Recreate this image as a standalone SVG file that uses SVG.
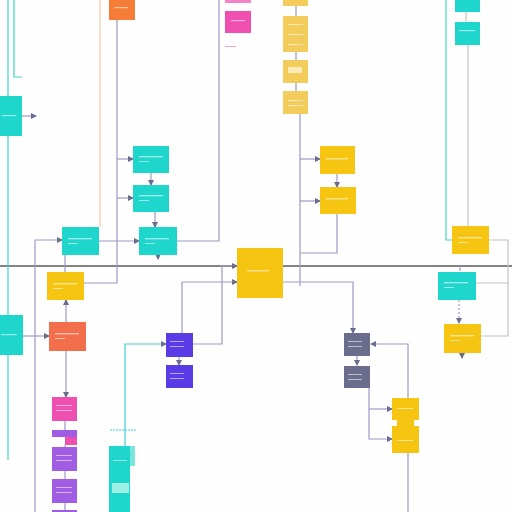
<svg xmlns="http://www.w3.org/2000/svg" width="512" height="512" viewBox="0 0 512 512">
<style>
.c{fill:none;stroke:#9a9cc4;stroke-width:1.2}
.t{fill:none;stroke:#3fd3c8;stroke-width:1.2}
.p{fill:none;stroke:#f3c9a6;stroke-width:1.2}
.g{fill:none;stroke:#c9c0bc;stroke-width:1.2}
.m{fill:none;stroke:#5a5a5a;stroke-width:1.4}
.teal{fill:#1fd6cc}
.yel{fill:#f6c512}
.ylt{fill:#f3cc5c}
.org{fill:#f57d38}
.red{fill:#f36f4c}
.pink{fill:#ef4fae}
.vio{fill:#a05ce2}
.blu{fill:#5a3ce6}
.gry{fill:#6c6c8c}
.tx{fill:#ffffff;opacity:0.55}
</style>
<defs>
<marker id="a" viewBox="0 0 6 6" refX="5" refY="3" markerWidth="5" markerHeight="5" orient="auto"><path d="M0,0L6,3L0,6z" fill="#6a6c90"/></marker>
</defs>
<rect width="512" height="512" fill="#fefefe"/>
<g id="connectors">
<line class="m" x1="0" y1="266" x2="512" y2="266"/>
<path class="t" d="M8,0V96"/>
<path class="t" d="M14,0V77H22"/>
<path class="t" d="M8,136V315"/>
<path class="t" d="M8,355V460"/>
<path class="c" d="M22,116H36" marker-end="url(#a)"/>
<path class="p" d="M100,0V227"/>
<path class="c" d="M117,20V283H84"/>
<path class="c" d="M117,159H133" marker-end="url(#a)"/>
<path class="c" d="M117,198H133" marker-end="url(#a)"/>
<path class="c" d="M151,173V185" marker-end="url(#a)"/>
<path class="c" d="M155,212V227" marker-end="url(#a)"/>
<path class="c" d="M158,255V259" marker-end="url(#a)"/>
<path class="c" d="M99,241H139" marker-end="url(#a)"/>
<path class="c" d="M177,241H219V0"/>
<path class="c" d="M35,512V240H62" marker-end="url(#a)"/>
<path class="c" d="M23,336H49" marker-end="url(#a)"/>
<path class="c" d="M65,255V272"/>
<path class="c" d="M66,322V300" marker-end="url(#a)"/>
<path class="c" d="M66,351V397" marker-end="url(#a)"/>
<path class="c" d="M65,421V430M65,445V447M65,471V479M65,503V512"/>
<path class="c" d="M300,114V286"/>
<path class="c" d="M296,6V16M296,52V60M296,82V91"/>
<path class="c" d="M300,159H320" marker-end="url(#a)"/>
<path class="c" d="M300,201H320" marker-end="url(#a)"/>
<path class="c" d="M337,174V187" marker-end="url(#a)"/>
<path class="c" d="M337,214V253H300"/>
<path class="c" d="M220,266H237" marker-end="url(#a)"/>
<path class="c" d="M182,333V282H237" marker-end="url(#a)"/>
<path class="c" d="M193,344H222V266"/>
<path class="c" d="M179,357V365" marker-end="url(#a)"/>
<path class="c" d="M283,282H353V333" marker-end="url(#a)"/>
<path class="c" d="M357,356V365" marker-end="url(#a)"/>
<path class="c" d="M408,398V344H371" marker-end="url(#a)"/>
<path class="c" d="M369,388V439H392" marker-end="url(#a)"/>
<path class="c" d="M369,409H392" marker-end="url(#a)"/>
<path class="c" d="M408,453V512"/>
<path class="t" d="M125,446V344H166" marker-end="url(#a)"/>
<path class="t" d="M110,430H137" stroke-dasharray="2 1"/>
<path class="t" d="M446,0V240H452"/>
<path class="g" d="M468,45V226"/>
<path class="g" d="M466,11V21"/>
<path class="g" d="M489,240H508V336H481M476,283H508"/>
<path class="c" d="M459,300V323" stroke-dasharray="2 2" marker-end="url(#a)"/>
<path class="c" d="M460,266V271"/>
<path class="c" d="M462,353V358" marker-end="url(#a)"/>
<path class="c" d="M110,455H137" stroke="#b8eee9" stroke-dasharray="1 9" stroke-width="3"/>
</g>
<g id="n1"><rect class="org" x="109" y="0" width="26" height="20"/><rect class="tx" x="114" y="7" width="14" height="1.2"/></g>
<g id="n2"><rect class="teal" x="0" y="96" width="22" height="40"/><rect class="tx" x="2" y="115" width="14" height="1.2"/></g>
<g id="n3"><rect class="teal" x="133" y="146" width="36" height="27"/><rect class="tx" x="139" y="156" width="24" height="1.4"/><rect class="tx" x="139" y="161" width="10" height="1"/></g>
<g id="n4"><rect class="teal" x="133" y="185" width="36" height="27"/><rect class="tx" x="139" y="195" width="24" height="1.4"/><rect class="tx" x="139" y="200" width="10" height="1"/></g>
<g id="n5"><rect class="teal" x="62" y="227" width="37" height="28"/><rect class="tx" x="68" y="238" width="24" height="1.4"/><rect class="tx" x="68" y="243" width="10" height="1"/></g>
<g id="n6"><rect class="teal" x="139" y="227" width="38" height="28"/><rect class="tx" x="145" y="238" width="24" height="1.4"/><rect class="tx" x="145" y="243" width="10" height="1"/></g>
<g id="n7"><rect class="yel" x="47" y="272" width="37" height="28"/><rect class="tx" x="53" y="283" width="24" height="1.4"/><rect class="tx" x="53" y="288" width="10" height="1"/></g>
<g id="n8"><rect class="red" x="49" y="322" width="37" height="29"/><rect class="tx" x="55" y="333" width="24" height="1.4"/><rect class="tx" x="55" y="338" width="10" height="1"/></g>
<g id="n9"><rect class="teal" x="0" y="315" width="23" height="40"/><rect class="tx" x="1" y="334" width="16" height="1.2"/></g>
<g id="n10"><rect class="yel" x="237" y="248" width="46" height="50"/><rect class="tx" x="247" y="270" width="22" height="1.4"/></g>
<g id="n11"><rect class="yel" x="320" y="146" width="35" height="28"/><rect class="tx" x="326" y="158" width="22" height="1.4"/></g>
<g id="n12"><rect class="yel" x="320" y="187" width="36" height="27"/><rect class="tx" x="326" y="198" width="22" height="1.4"/></g>
<g id="n13a"><rect class="ylt" x="283" y="0" width="25" height="6"/></g>
<g id="n13b"><rect class="ylt" x="283" y="16" width="25" height="36"/><rect class="tx" x="288" y="24" width="15" height="1"/><rect class="tx" x="288" y="34" width="15" height="1"/><rect class="tx" x="288" y="44" width="15" height="1"/></g>
<g id="n13c"><rect class="ylt" x="283" y="60" width="25" height="23"/><rect x="288" y="67" width="14" height="6" fill="#fbe9b6"/></g>
<g id="n13d"><rect class="ylt" x="283" y="91" width="25" height="23"/><rect class="tx" x="288" y="100" width="15" height="1"/><rect class="tx" x="288" y="105" width="15" height="1"/></g>
<g id="n14a"><rect class="pink" x="225" y="0" width="26" height="3" opacity="0.7"/></g>
<g id="n14b"><rect class="pink" x="225" y="11" width="26" height="22"/><rect class="tx" x="231" y="20" width="14" height="1.2"/><rect x="225" y="46" width="11" height="1" fill="#f3a3cf"/></g>
<g id="n15a"><rect class="teal" x="455" y="0" width="25" height="12"/></g>
<g id="n15b"><rect class="teal" x="455" y="22" width="25" height="23"/><rect class="tx" x="459" y="30" width="16" height="1.2"/></g>
<g id="n16"><rect class="yel" x="452" y="226" width="37" height="28"/><rect class="tx" x="458" y="237" width="24" height="1.4"/><rect class="tx" x="458" y="242" width="10" height="1"/></g>
<g id="n17"><rect class="teal" x="438" y="272" width="38" height="28"/><rect class="tx" x="444" y="282" width="24" height="1.4"/><rect class="tx" x="444" y="287" width="10" height="1"/></g>
<g id="n18"><rect class="yel" x="444" y="324" width="37" height="29"/><rect class="tx" x="450" y="335" width="24" height="1.4"/><rect class="tx" x="450" y="340" width="10" height="1"/></g>
<g id="n19"><rect class="blu" x="166" y="333" width="27" height="24"/><rect class="tx" x="170" y="341" width="14" height="1"/><rect class="tx" x="170" y="346" width="14" height="1"/></g>
<g id="n20"><rect class="blu" x="166" y="365" width="27" height="23"/><rect class="tx" x="170" y="373" width="14" height="1"/><rect class="tx" x="170" y="378" width="14" height="1"/></g>
<g id="n21"><rect class="gry" x="344" y="333" width="26" height="23"/><rect class="tx" x="348" y="341" width="14" height="1"/><rect class="tx" x="348" y="346" width="14" height="1"/></g>
<g id="n22"><rect class="gry" x="344" y="366" width="26" height="22"/><rect class="tx" x="348" y="374" width="14" height="1"/><rect class="tx" x="348" y="379" width="14" height="1"/></g>
<g id="n23"><rect class="yel" x="392" y="398" width="27" height="22"/><rect class="yel" x="392" y="426" width="27" height="27"/><rect class="yel" x="397" y="419" width="17" height="8"/><rect class="tx" x="397" y="408" width="16" height="1"/><rect class="tx" x="397" y="440" width="16" height="1"/></g>
<g id="n24a"><rect class="pink" x="52" y="397" width="25" height="24"/><rect class="tx" x="56" y="405" width="16" height="1"/><rect class="tx" x="56" y="410" width="16" height="1"/></g>
<g id="n24b"><rect class="vio" x="52" y="430" width="25" height="7"/><rect class="pink" x="65" y="437" width="12" height="8"/></g>
<g id="n24c"><rect class="vio" x="52" y="447" width="25" height="24"/><rect class="tx" x="56" y="455" width="16" height="1"/><rect class="tx" x="56" y="460" width="16" height="1"/></g>
<g id="n24d"><rect class="vio" x="52" y="479" width="25" height="24"/><rect class="tx" x="56" y="487" width="16" height="1"/><rect class="tx" x="56" y="492" width="16" height="1"/></g>
<g id="n24e"><rect class="vio" x="52" y="510" width="25" height="2"/></g>
<g id="n25"><rect class="teal" x="109" y="446" width="21" height="66"/><rect class="teal" x="109" y="446" width="26" height="20" opacity="0.6"/><rect x="112" y="483" width="17" height="10" fill="#9ef0e6"/><rect class="tx" x="113" y="460" width="14" height="1"/></g>
</svg>
